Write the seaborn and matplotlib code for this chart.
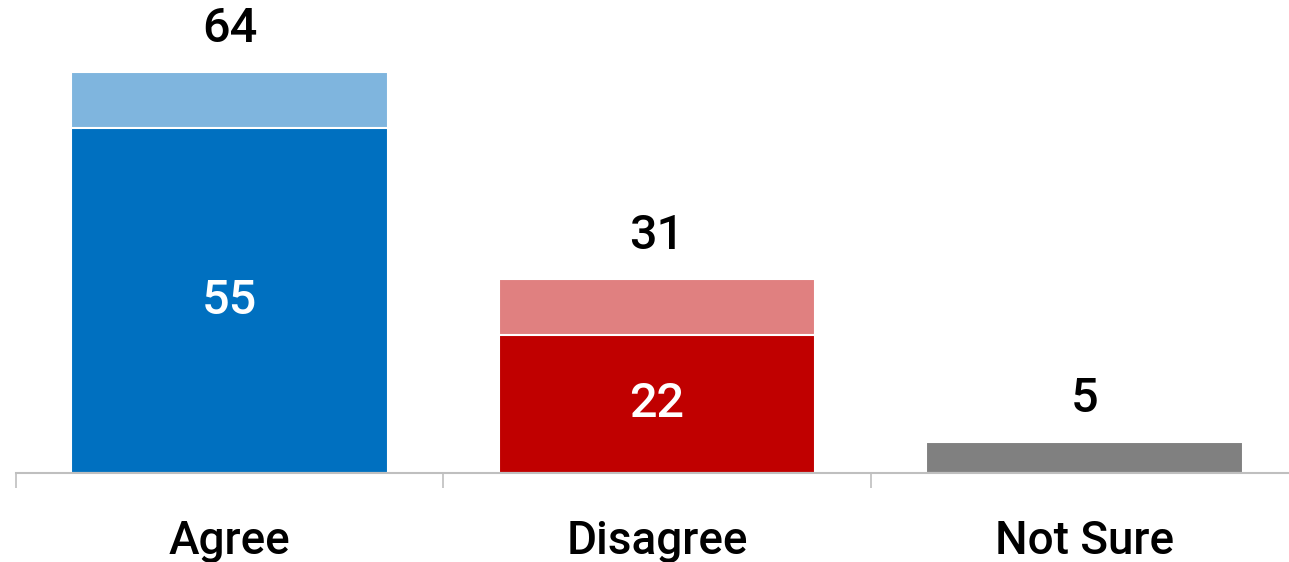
import matplotlib
matplotlib.use("Agg")
import matplotlib.pyplot as plt
import seaborn as sns

categories = ["Agree", "Disagree", "Not Sure"]
strong = [55, 22, 5]
total = [64, 31, 5]

dark_colors = ["#0070C0", "#C00000", "#808080"]
light_colors = ["#7FB5DE", "#E08080", "#808080"]

sns.set_theme(style="white")
plt.rcParams["font.family"] = ["Roboto", "DejaVu Sans"]

W, H = 1289, 562
fig = plt.figure(figsize=(W / 100, H / 100), dpi=100)
ax = fig.add_axes([15.75 / W, 89 / H, 1282.5 / W, 473 / H])

bw = 0.7415
sns.barplot(x=categories, y=total, hue=categories, palette=light_colors,
            width=bw, saturation=1, legend=False, ax=ax,
            edgecolor="white", linewidth=1.5)
sns.barplot(x=categories, y=strong, hue=categories, palette=dark_colors,
            width=bw, saturation=1, legend=False, ax=ax,
            edgecolor="white", linewidth=1.5)

ax.set_xlim(-0.5, 2.5)
ax.set_ylim(0, 75.44)
ax.set_xlabel("")
ax.set_ylabel("")
ax.set_yticks([])
for s in ["top", "left", "right"]:
    ax.spines[s].set_visible(False)
ax.spines["bottom"].set_color("#BFBFBF")
ax.spines["bottom"].set_linewidth(1.5)

ax.set_xticks(range(len(categories)))
ax.set_xticklabels(categories, fontsize=33, fontweight="medium", color="black")
for lbl in ax.get_xticklabels():
    lbl.set_fontstretch("normal")
ax.tick_params(axis="x", which="major", length=0, pad=33)
ax.set_xticks([-0.5, 0.5, 1.5], minor=True)
ax.tick_params(axis="x", which="minor", length=11, width=1.2, color="#BFBFBF",
               direction="out", bottom=True)

for i, (s, t) in enumerate(zip(strong, total)):
    ax.annotate(str(t), (i, t), xytext=(0, 31), textcoords="offset points",
                ha="center", va="center", fontsize=35, fontweight="medium",
                color="black")
    if s < t:
        ax.text(i, s / 2, str(s), ha="center", va="center", fontsize=35,
                fontweight="medium", color="white")

fig.savefig("out.png", dpi=100)
